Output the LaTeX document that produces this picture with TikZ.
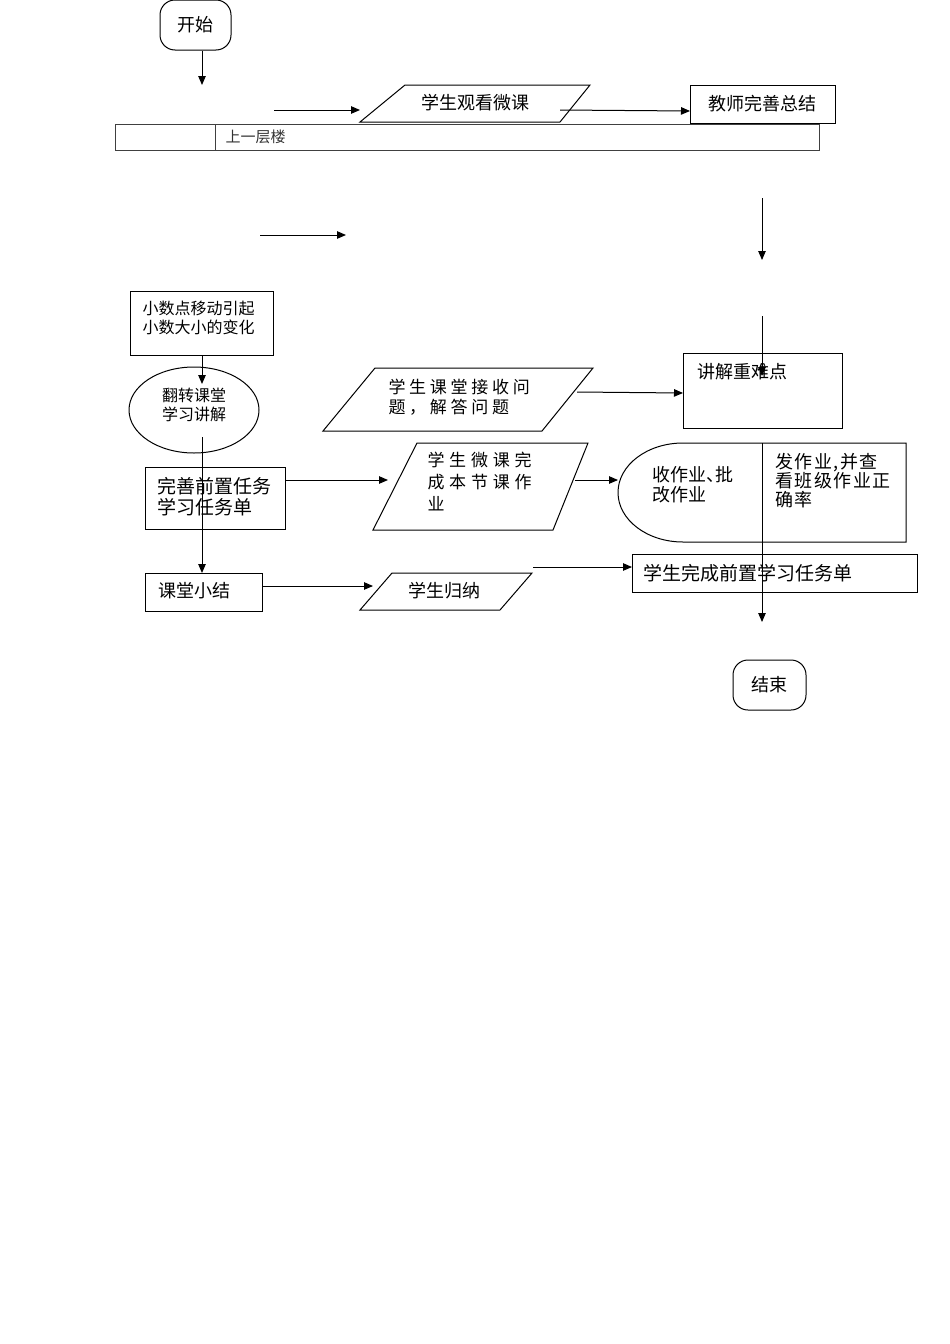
\documentclass[tikz,border=0pt]{standalone}
\usepackage{fontspec}
\setmainfont{Noto Sans CJK SC}
\newfontfamily\cjkwide[LetterSpace=22]{Noto Sans CJK SC}
\newfontfamily\cjkwider[LetterSpace=28]{Noto Sans CJK SC}
\newfontfamily\cjkmid[LetterSpace=8]{Noto Sans CJK SC}
\usetikzlibrary{arrows.meta,shapes.geometric}
\begin{document}
\begin{tikzpicture}[x=1pt,y=-1pt,line width=1pt,
  arr/.style={-{Triangle[length=9pt,width=7.5pt]}},
  txt/.style={inner sep=0pt,anchor=west,align=left,font=\fontsize{18}{20}\selectfont},
  box/.style={draw,rectangle,inner sep=0pt,anchor=north west},
  term/.style={draw,rectangle,rounded corners=15pt,inner sep=0pt,font=\fontsize{18}{20}\selectfont}]
\useasboundingbox (0,0) rectangle (950,1344);
\fill[white] (0,0) rectangle (950,1344);

% start
\node[term,minimum width=71pt,minimum height=50pt] (start) at (195.5,25) {开始};
\coordinate (s1) at (202,85);
\draw[arr] (start.south -| s1) -- (s1);

% top row
\coordinate (a0) at (274,110);
\coordinate (a1) at (360,110);
\draw[arr] (a0) -- (a1);
\draw (405,85) -- (590,85) -- (560,122) -- (360,122) -- cycle;
\node[txt,anchor=center] (watch) at (475,103) {学生观看微课};
\node[box,minimum width=145pt,minimum height=38pt] (teacher) at (690,85) {};
\node[txt,anchor=center] (teachertxt) at (762,104) {教师完善总结};
\coordinate (w1) at (560,110);
\draw[arr] (w1) -- (teacher.west |- 0,111);

% table
\node[box,minimum width=704pt,minimum height=26pt,draw=black!75] (floor) at (115,124) {};
\draw[black!75] (215,124) -- (215,150);
\node[txt,font=\fontsize{15}{15}\selectfont,text=black!80] (floortxt) at (225,137) {上一层楼};

% free arrows
\coordinate (f0) at (260,235);
\coordinate (f1) at (346,235);
\draw[arr] (f0) -- (f1);
\coordinate (v0) at (762,198);
\coordinate (v1) at (762,260);
\draw[arr] (v0) -- (v1);

% left column
\node[box,minimum width=143pt,minimum height=64pt] (topic) at (130,291) {};
\node[txt,font=\fontsize{16}{19}\selectfont] (topictxt) at (142,318) {小数点移动引起\\小数大小的变化};
\node[draw,ellipse,minimum width=130pt,minimum height=86pt,inner sep=0pt] (flip) at (194,410) {};
\node[txt,font=\fontsize{16}{19}\selectfont,anchor=center] (fliptxt) at (194,405) {翻转课堂\\学习讲解};
\coordinate (t1) at (202,384);
\draw[arr] (topic.south -| t1) -- (t1);

\node[box,minimum width=140pt,minimum height=62pt] (improve) at (145,467) {};
\node[txt,font=\fontsize{19}{21}\selectfont] (improvetxt) at (157,497) {完善前置任务\\学习任务单};

\node[box,minimum width=117pt,minimum height=38pt] (summary) at (145,573) {};
\node[txt] (summarytxt) at (158,591) {课堂小结};

\coordinate (e0) at (202,437);
\draw[arr] (e0) -- (summary.north -| e0);

% middle column
\draw (375,368) -- (593,368) -- (542,431) -- (323,431) -- cycle;
\node[txt,font=\cjkwide\fontsize{17}{20}\selectfont] (recv) at (388,397) {学生课堂接收问\\题，解答问题};

\draw (417,443) -- (588,443) -- (553,530) -- (373,530) -- cycle;
\node[txt,font=\cjkwider\fontsize{17}{22}\selectfont] (hw) at (427,482) {学生微课完\\成本节课作\\业};

\draw (392,573) -- (532,573) -- (500,610) -- (360,610) -- cycle;
\node[txt,anchor=center] (induce) at (444,591) {学生归纳};

\coordinate (m0) at (373,480);
\coordinate (m1) at (388,480);
\draw[arr] (improve.east |- m0) -- (m1);
\coordinate (n1) at (373,586);
\draw[arr] (summary.east |- n1) -- (n1);

% right column
\node[box,minimum width=159pt,minimum height=75pt] (key) at (683,353) {};
\node[txt] (keytxt) at (697,372) {讲解重难点};
\coordinate (r0) at (577,392);
\draw[arr] (r0) -- (key.west |- 0,393);
\coordinate (k0) at (762,316);
\coordinate (k1) at (762,376);
\draw[arr] (k0) -- (k1);

\coordinate (cA) at (683,443);
\coordinate (cB) at (906,443);
\coordinate (cC) at (906,542);
\coordinate (cD) at (683,542);
\draw (cA) -- (cB) -- (cC) -- (cD) arc[start angle=270,end angle=90,x radius=65pt,y radius=49.5pt] -- cycle;
\node[txt,font=\fontsize{18}{20}\selectfont] (collect) at (652,485) {收作业、\kern-9pt批\\改作业};
\node[txt,font=\cjkmid\fontsize{18}{19}\selectfont] (give) at (775,481) {发作业,并查\\看班级作业正\\确率};
\coordinate (h0) at (575,480);
\coordinate (h1) at (618,480);
\draw[arr] (h0) -- (h1);

\node[box,minimum width=285pt,minimum height=38pt] (pre) at (632,554) {};
\node[txt,font=\fontsize{19}{21}\selectfont] (pretxt) at (643,573) {学生完成前置学习任务单};
\coordinate (p0) at (533,567);
\draw[arr] (p0) -- (pre.west |- p0);

\coordinate (d0) at (762,443);
\coordinate (d1) at (762,622);
\draw[arr] (d0) -- (d1);

\node[term,minimum width=73pt,minimum height=50pt] (end) at (769.5,685) {结束};
\end{tikzpicture}
\end{document}
